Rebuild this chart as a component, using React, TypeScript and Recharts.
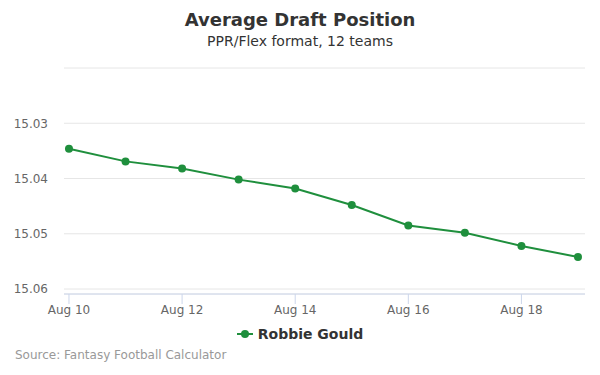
import { CartesianGrid, Line, LineChart, XAxis, YAxis } from "recharts";

const days = [10, 11, 12, 13, 14, 15, 16, 17, 18, 19];
const adp = [15.0346, 15.0369, 15.0382, 15.0402, 15.0418, 15.0448, 15.0485, 15.0498, 15.0522, 15.0542];
const xTicks = [10, 12, 14, 16, 18];
const yTicks = [15.02, 15.03, 15.04, 15.05, 15.06];

const data = days.map((d, i) => ({ day: d, adp: adp[i] }));

const GREEN = "#1f8f3d";
const FONT = "'DejaVu Sans', sans-serif";

export default function App() {
  return (
    <div
      style={{
        position: "absolute",
        left: 0,
        top: 0,
        width: 600,
        height: 375,
        background: "#fff",
        fontFamily: FONT,
      }}
    >
      <div
        style={{
          position: "absolute",
          top: 9,
          width: 600,
          textAlign: "center",
          fontSize: 18,
          fontWeight: "bold",
          color: "#333",
        }}
      >
        Average Draft Position
      </div>
      <div
        style={{
          position: "absolute",
          top: 33,
          width: 600,
          textAlign: "center",
          fontSize: 14,
          color: "#333",
        }}
      >
        PPR/Flex format, 12 teams
      </div>
      <div style={{ position: "absolute", left: 0, top: 0 }}>
        <LineChart
          width={600}
          height={375}
          data={data}
          margin={{ top: 68, right: 15, bottom: 0, left: 0 }}
        >
          <CartesianGrid stroke="#e6e6e6" vertical={false} />
          <XAxis
            dataKey="day"
            type="number"
            domain={[9.912, 19.124]}
            ticks={xTicks}
            tickFormatter={(v) => `Aug ${v}`}
            allowDataOverflow
            height={81}
            stroke="#ccd6eb"
            tickSize={10}
            tickMargin={1}
            tick={{ fill: "#666", fontSize: 12, fontFamily: FONT }}
          />
          <YAxis
            reversed
            type="number"
            domain={[15.02, 15.0609]}
            ticks={yTicks}
            allowDataOverflow
            width={64}
            axisLine={false}
            tickLine={false}
            tickSize={6}
            tickMargin={10}
            tickFormatter={(v) => (v === 15.02 ? "" : v.toFixed(2))}
            tick={{ fill: "#666", fontSize: 12, fontFamily: FONT }}
          />
          <Line
            type="linear"
            dataKey="adp"
            stroke={GREEN}
            strokeWidth={2}
            dot={{ r: 4, fill: GREEN, stroke: GREEN, strokeWidth: 0 }}
            activeDot={false}
            isAnimationActive={false}
          />
        </LineChart>
      </div>
      <div
        style={{
          position: "absolute",
          top: 326,
          width: 600,
          display: "flex",
          justifyContent: "center",
          alignItems: "center",
          fontSize: 14,
          fontWeight: "bold",
          color: "#333",
        }}
      >
        <svg width={16} height={12} style={{ marginRight: 5 }}>
          <line x1={0} y1={6} x2={16} y2={6} stroke={GREEN} strokeWidth={2} />
          <circle cx={8} cy={6} r={4} fill={GREEN} />
        </svg>
        Robbie Gould
      </div>
      <div
        style={{
          position: "absolute",
          left: 15,
          top: 348,
          fontSize: 12,
          color: "#999",
        }}
      >
        Source: Fantasy Football Calculator
      </div>
    </div>
  );
}
